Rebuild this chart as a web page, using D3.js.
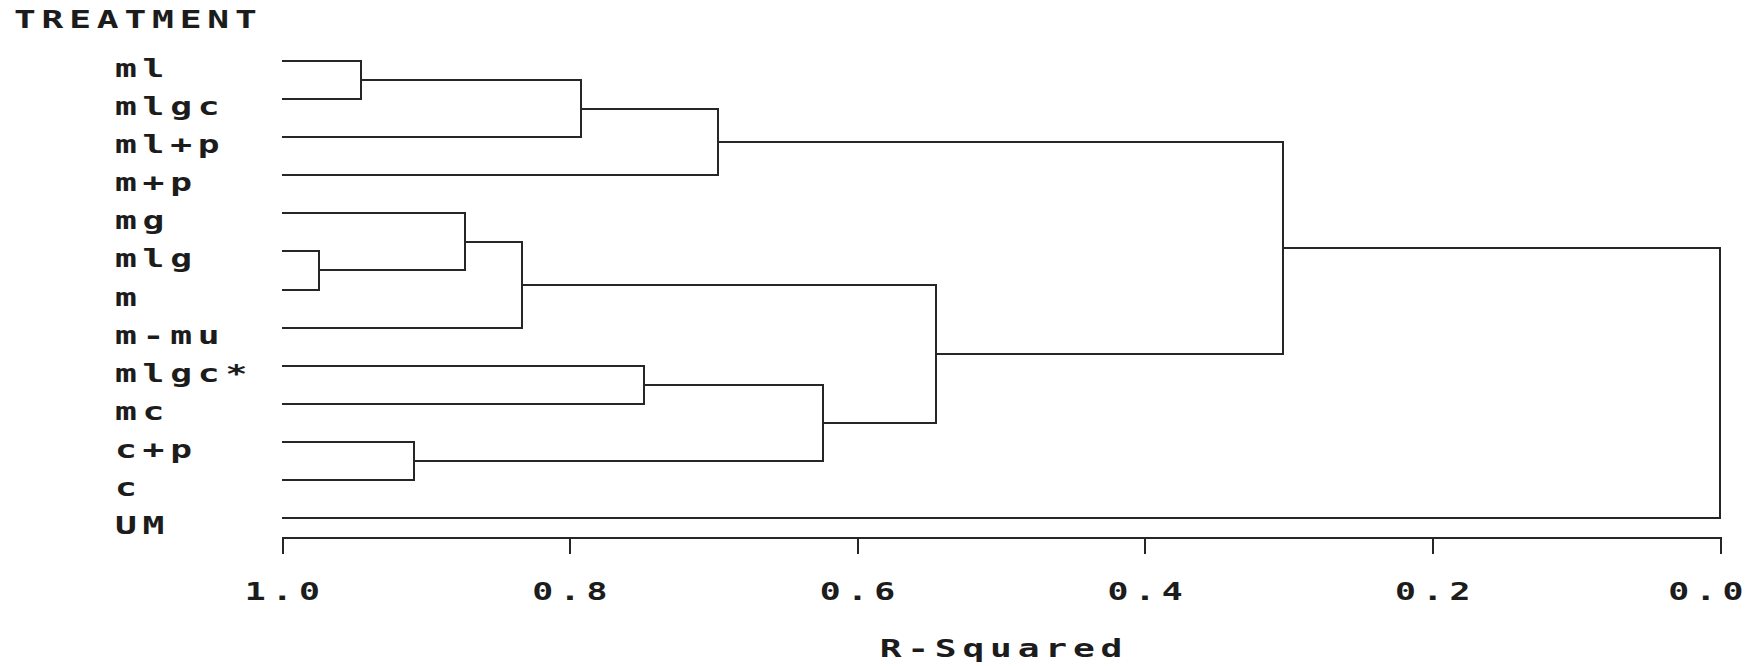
<!DOCTYPE html>
<html>
<head>
<meta charset="utf-8">
<script src="https://cdn.jsdelivr.net/npm/d3@7"></script>
<style>
  body { margin: 0; background: #fff; }
  text { font-family: "DejaVu Sans Mono", monospace; font-weight: bold; fill: #1c1c1c; }
  .lbl { font-size: 25px; letter-spacing: 4px; }
  .tick text { font-size: 24px; letter-spacing: 4.3px; }
</style>
</head>
<body>
<svg id="chart"></svg>
<script>
// leaves, top to bottom
var treatments = ["ml", "mlgc", "ml+p", "m+p", "mg", "mlg", "m", "m-mu", "mlgc*", "mc", "c+p", "c", "UM"];

// joins in order: [left, right, R-squared where they join]; a later join refers to an earlier one as "J<index>"
var joins = [
    ["ml", "mlgc", 0.945],   // J0
    ["J0", "ml+p", 0.792],   // J1
    ["J1", "m+p", 0.697],    // J2
    ["mlg", "m", 0.974],     // J3
    ["mg", "J3", 0.873],     // J4
    ["J4", "m-mu", 0.833],   // J5
    ["mlgc*", "mc", 0.748],  // J6
    ["c+p", "c", 0.908],     // J7
    ["J6", "J7", 0.624],     // J8
    ["J5", "J8", 0.545],     // J9
    ["J2", "J9", 0.304],     // J10
    ["J10", "UM", 0.0]       // J11
];

var tickValues = [1.0, 0.8, 0.6, 0.4, 0.2, 0.0];
var xTitle = "R-Squared";
var yTitle = "TREATMENT";

var width = 1761, height = 666;
var stretch = 1.45;   // wide, blocky glyphs like the old plotter font
var ink = "#262626";

var svg = d3.select("#chart").attr("width", width).attr("height", height);

//R-squared runs from 1 on the left to 0 on the right
var x = d3.scaleLinear().domain([1, 0]).range([282, 1720]);
var y = d3.scalePoint().domain(treatments).range([61, 518]);

//position of every node: leaves sit at R-squared 1, joins at the mean height of their two children
var nodes = {};
treatments.forEach(function (t) {
    nodes[t] = {r: 1, y: y(t)};
});
joins.forEach(function (j, i) {
    var a = nodes[j[0]], b = nodes[j[1]];
    nodes["J" + i] = {r: j[2], y: (a.y + b.y) / 2};
});

//one bracket per join
svg.append("g").selectAll("path")
    .data(joins)
    .enter().append("path")
    .attr("fill", "none")
    .attr("stroke", ink)
    .attr("stroke-width", 2)
    .attr("shape-rendering", "crispEdges")
    .attr("d", function (j) {
        var a = nodes[j[0]], b = nodes[j[1]];
        return "M" + x(a.r) + "," + a.y + "H" + x(j[2]) + "V" + b.y + "H" + x(b.r);
    });

//leaf labels, hanging just below their line
svg.append("g").selectAll("text")
    .data(treatments)
    .enter().append("text")
    .attr("class", "lbl")
    .attr("transform", function (d) {
        return "translate(115," + (y(d) + 16) + ") scale(" + stretch + ",1)";
    })
    .text(function (d) { return d; });

svg.append("text")
    .attr("class", "lbl")
    .attr("transform", "translate(14,28) scale(" + stretch + ",1)")
    .text(yTitle);

//axis
var axis = svg.append("g")
    .attr("transform", "translate(0,537)")
    .style("color", ink)
    .call(d3.axisBottom(x).tickValues(tickValues).tickFormat(d3.format(".1f")).tickSize(17).tickSizeOuter(0));

axis.attr("font-family", null).attr("font-size", null);
axis.selectAll("path, line").attr("stroke-width", 2).attr("shape-rendering", "crispEdges");
//the last label is pulled in a little so it stays on the page, as in the print
axis.selectAll(".tick text")
    .attr("y", null)
    .attr("dy", null)
    .attr("dx", function (d) { return d === 0 ? -8 : 2; })
    .attr("transform", "translate(0,63) scale(" + stretch + ",1)");

svg.append("text")
    .attr("class", "lbl")
    .attr("text-anchor", "middle")
    .attr("dx", 2)
    .attr("transform", "translate(" + ((x(1) + x(0)) / 2) + ",657) scale(" + stretch + ",1)")
    .text(xTitle);
</script>
</body>
</html>
